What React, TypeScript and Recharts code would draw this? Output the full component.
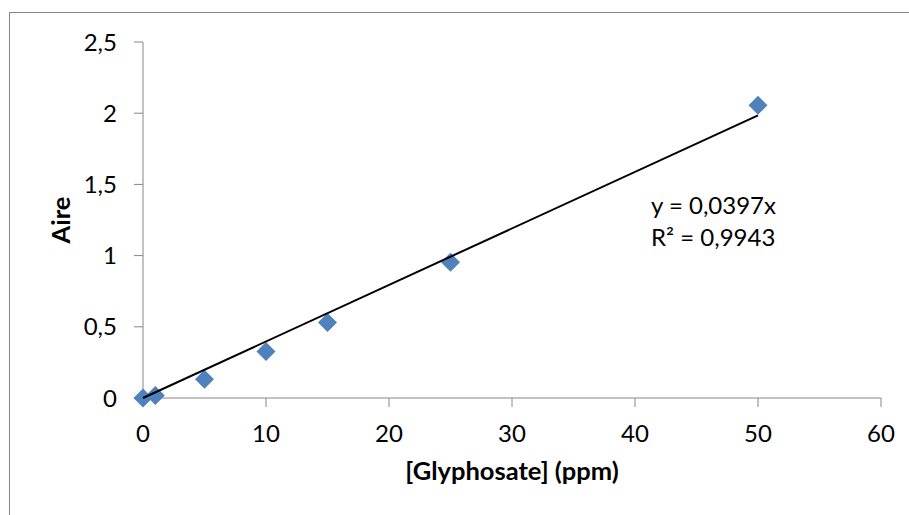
import React from "react";
import { ScatterChart, Scatter, XAxis, YAxis, Label } from "recharts";

const concentrations = [0, 1, 5, 10, 15, 25, 50];
const areas = [0, 0.018, 0.132, 0.327, 0.531, 0.954, 2.055];
const xTicks = [0, 10, 20, 30, 40, 50, 60];
const yTicks = [0, 0.5, 1, 1.5, 2, 2.5];
const trendX = [0, 50];
const slope = 0.0397;
const equationText = "y = 0,0397x";
const r2Text = "R² = 0,9943";

const points = concentrations.map((x, i) => ({ x, y: areas[i] }));
const trend = trendX.map((x) => ({ x, y: slope * x }));

const FONT = "Lato, 'Open Sans', sans-serif";
const AXIS = "#868686";

const fmt = (v: number) => String(v).replace(".", ",");

function Diamond(props: any) {
  const { cx, cy } = props;
  const r = 9.5;
  return (
    <polygon
      points={`${cx},${cy - r} ${cx + r},${cy} ${cx},${cy + r} ${cx - r},${cy}`}
      fill="#4F81BD"
    />
  );
}

export default function App() {
  return (
    <div
      style={{
        position: "absolute",
        left: 0,
        top: 0,
        width: 909,
        height: 515,
        overflow: "hidden",
        background: "#fff",
      }}
    >
      <div
        style={{
          position: "absolute",
          left: 9,
          top: 12,
          width: 1000,
          height: 1000,
          border: `1px solid ${AXIS}`,
        }}
      />
      <div style={{ position: "absolute", left: 0, top: 0 }}>
        <ScatterChart
          width={909}
          height={515}
          margin={{ top: 42, right: 28, left: 0, bottom: 57 }}
        >
          <XAxis
            type="number"
            dataKey="x"
            domain={[0, 60]}
            ticks={xTicks}
            stroke={AXIS}
            tickSize={9}
            tickMargin={18}
            height={60}
            tick={{ fill: "#000", fontSize: 24, fontFamily: FONT }}
            tickFormatter={fmt}
          >
            <Label
              content={() => (
                <text
                  x={512}
                  y={480}
                  textAnchor="middle"
                  fontFamily={FONT}
                  fontSize={25.5}
                  fontWeight="bold"
                  fill="#000"
                >
                  [Glyphosate] (ppm)
                </text>
              )}
            />
          </XAxis>
          <YAxis
            type="number"
            dataKey="y"
            domain={[0, 2.5]}
            ticks={yTicks}
            stroke={AXIS}
            tickSize={9}
            tickMargin={17}
            width={143}
            tick={{ fill: "#000", fontSize: 24, fontFamily: FONT }}
            tickFormatter={fmt}
          >
            <Label
              content={() => (
                <g>
                  <text
                    x={70}
                    y={220}
                    transform="rotate(-90 70 220)"
                    textAnchor="middle"
                    fontFamily={FONT}
                    fontSize={25.5}
                    fontWeight="bold"
                    fill="#000"
                  >
                    Aire
                  </text>
                  <text x={651} y={214} fontFamily={FONT} fontSize={24} fill="#000">
                    {equationText}
                  </text>
                  <text x={651} y={246} fontFamily={FONT} fontSize={24} fill="#000">
                    {r2Text}
                  </text>
                </g>
              )}
            />
          </YAxis>
          <Scatter
            data={points}
            shape={<Diamond />}
            isAnimationActive={false}
          />
          <Scatter
            data={trend}
            line={{ stroke: "#000", strokeWidth: 2 }}
            shape={() => <g />}
            isAnimationActive={false}
          />
        </ScatterChart>
      </div>
    </div>
  );
}
